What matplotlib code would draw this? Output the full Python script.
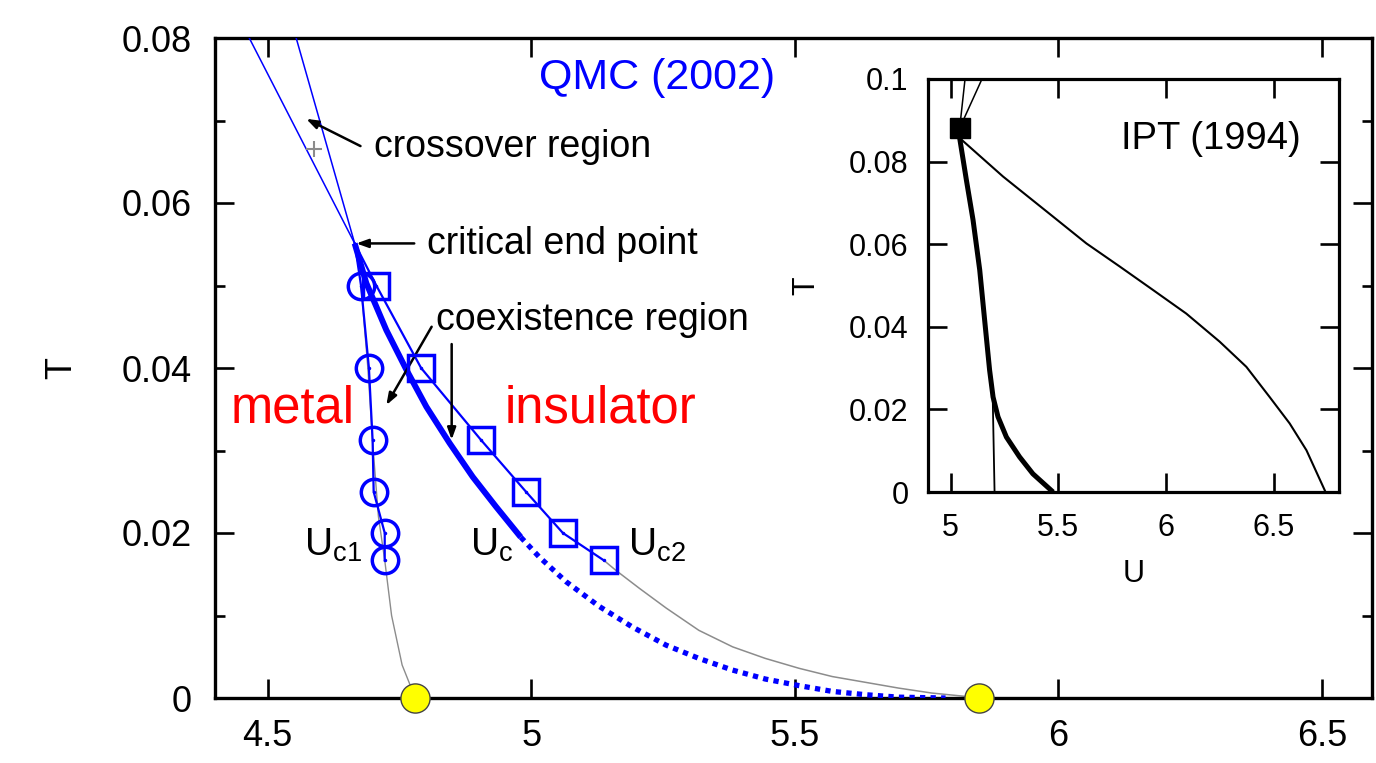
import matplotlib
matplotlib.use("Agg")
import matplotlib.pyplot as plt

plt.rcParams['font.family'] = ['Liberation Sans', 'DejaVu Sans']
plt.rcParams['mathtext.fontset'] = 'custom'
plt.rcParams['mathtext.rm'] = 'Liberation Sans'
plt.rcParams['mathtext.it'] = 'Liberation Sans'

# ---------------- data (QMC 2002) ----------------
crit_U, crit_T = 4.665, 0.0551
uc1_U = [4.677, 4.692, 4.699, 4.701, 4.722, 4.722]
uc1_T = [0.05, 0.04, 0.03125, 0.025, 0.02, 0.01667]
uc2_U = [4.706, 4.791, 4.905, 4.990, 5.060, 5.138]
uc2_T = [0.05, 0.04, 0.03125, 0.025, 0.02, 0.01667]
uc_U = [4.665, 4.687, 4.725, 4.763, 4.801, 4.845, 4.889, 4.933, 4.980]
uc_T = [0.0551, 0.0503, 0.0446, 0.0398, 0.0353, 0.0309, 0.0268, 0.0232, 0.0195]
uc_dot_U = [4.980, 5.015, 5.066, 5.129, 5.192, 5.256, 5.318, 5.381, 5.444, 5.508, 5.571, 5.634, 5.697, 5.786]
uc_dot_T = [0.0195, 0.0171, 0.0141, 0.0111, 0.0086, 0.0064, 0.0048, 0.0034, 0.0023, 0.0015, 0.0008, 0.0004, 0.0001, 0.0]
gray1_U = [4.677, 4.690, 4.699, 4.710, 4.722, 4.735, 4.755, 4.78]
gray1_T = [0.050, 0.040, 0.031, 0.022, 0.0167, 0.010, 0.004, 0.0]
gray2_U = [5.138, 5.160, 5.205, 5.256, 5.318, 5.382, 5.444, 5.508, 5.571, 5.634, 5.697, 5.760, 5.823, 5.849]
gray2_T = [0.01667, 0.0155, 0.0133, 0.0109, 0.0082, 0.0062, 0.0048, 0.0036, 0.0026, 0.0019, 0.0012, 0.0006, 0.0002, 0.0]
cross_a_U = [4.665, 4.465]
cross_a_T = [0.0551, 0.08]
cross_b_U = [4.665, 4.554]
cross_b_T = [0.0551, 0.08]
zeroT_U = [4.78, 5.849]
zeroT_T = [0.0, 0.0]
plus_U, plus_T = 4.588, 0.0665

# ---------------- data (IPT 1994, inset) ----------------
ipt_crit_U, ipt_crit_T = 5.042, 0.0881
ipt_uc2_U = [5.042, 5.243, 5.475, 5.630, 5.785, 5.940, 6.094, 6.249, 6.373, 6.481, 6.574, 6.652, 6.737]
ipt_uc2_T = [0.0857, 0.0764, 0.0667, 0.0602, 0.0546, 0.0489, 0.0432, 0.0364, 0.0303, 0.0230, 0.0166, 0.0101, 0.0004]
ipt_uc_U = [5.042, 5.073, 5.104, 5.135, 5.158, 5.181, 5.197, 5.220, 5.259, 5.320, 5.382, 5.467]
ipt_uc_T = [0.0857, 0.0756, 0.0659, 0.0538, 0.0416, 0.0295, 0.0230, 0.0182, 0.0133, 0.0085, 0.0044, 0.0004]
ipt_uc1_U = [5.042, 5.073, 5.104, 5.135, 5.158, 5.181, 5.195, 5.204]
ipt_uc1_T = [0.0857, 0.0756, 0.0659, 0.0538, 0.0416, 0.0295, 0.0240, 0.0]
ipt_up_a_U = [5.042, 5.068]
ipt_up_b_U = [5.042, 5.150]
ipt_up_T = [0.0881, 0.1005]

main_xticks = [4.5, 5, 5.5, 6, 6.5]
main_xlabels = ['4.5', '5', '5.5', '6', '6.5']
main_yticks = [0, 0.02, 0.04, 0.06, 0.08]
main_ylabels = ['0', '0.02', '0.04', '0.06', '0.08']
main_yminor = [0.01, 0.03, 0.05, 0.07]
ins_xticks = [5, 5.5, 6, 6.5]
ins_xlabels = ['5', '5.5', '6', '6.5']
ins_yticks = [0, 0.02, 0.04, 0.06, 0.08, 0.1]
ins_ylabels = ['0', '0.02', '0.04', '0.06', '0.08', '0.1']

BLUE = '#0000ff'
RED = '#ff0000'
GRAY = '#8c8c8c'

W, H = 1376, 763
fig = plt.figure(figsize=(13.76, 7.63), dpi=100)
ax = fig.add_axes([215/W, 1-698/H, (1372-215)/W, (698-38)/H])
ax.set_xlim(4.4, 6.595)
ax.set_ylim(0, 0.08)

# lines
ax.plot(gray1_U, gray1_T, color=GRAY, lw=1.0, zorder=2)
ax.plot(gray2_U, gray2_T, color=GRAY, lw=1.1, zorder=2)
ax.plot(cross_a_U, cross_a_T, color=BLUE, lw=1.1, zorder=3)
ax.plot(cross_b_U, cross_b_T, color=BLUE, lw=1.1, zorder=3)
ax.plot([crit_U] + uc1_U, [crit_T] + uc1_T, color=BLUE, lw=1.6, zorder=3)
ax.plot([crit_U] + uc2_U, [crit_T] + uc2_T, color=BLUE, lw=1.6, zorder=3)
ax.plot(uc_U, uc_T, color=BLUE, lw=4.3, zorder=3, solid_capstyle='butt', solid_joinstyle='round')
ax.plot(uc_dot_U, uc_dot_T, color=BLUE, lw=3.8, linestyle=(0, (1.0, 1.0)), zorder=3)

# markers
ax.plot(uc1_U, uc1_T, linestyle='none', marker='o', ms=19, mfc='none', mec=BLUE, mew=2.5, zorder=4)
ax.plot(uc2_U, uc2_T, linestyle='none', marker='s', ms=18.5, mfc='none', mec=BLUE, mew=2.5, zorder=4)
ax.plot(uc1_U + uc2_U, uc1_T + uc2_T, linestyle='none', marker='.', ms=3, color=BLUE, zorder=5)
ax.plot([plus_U], [plus_T], linestyle='none', marker='+', ms=12, mew=1.5, color=GRAY, zorder=4)
ax.plot(zeroT_U, zeroT_T, linestyle='none', marker='o', ms=21, mfc='#ffff00', mec='#444444', mew=1.0,
        zorder=6, clip_on=False)

# axes styling
for s in ax.spines.values():
    s.set_linewidth(2.4)
ax.set_xticks(main_xticks)
ax.set_xticklabels(main_xlabels)
ax.set_yticks(main_yticks)
ax.set_yticklabels(main_ylabels)
ax.set_yticks(main_yminor, minor=True)
ax.tick_params(which='both', direction='in', top=True, right=True, width=1.9, labelsize=26)
ax.tick_params(which='major', length=14)
ax.tick_params(which='minor', length=7)
ax.tick_params(axis='y', pad=17)
ax.tick_params(axis='x', pad=15)
ax.set_ylabel('T', fontsize=26, labelpad=30)
ax.set_xlabel('U', fontsize=26, labelpad=10)

# texts
FS = 27
ax.text(5.238, 0.0752, 'QMC (2002)', color=BLUE, fontsize=31, ha='center', va='center')
ax.text(4.702, 0.0668, 'crossover region', fontsize=FS, ha='left', va='center')
ax.text(4.803, 0.0550, 'critical end point', fontsize=FS, ha='left', va='center')
ax.text(4.820, 0.0458, 'coexistence region', fontsize=FS, ha='left', va='center')
ax.text(4.430, 0.0350, 'metal', color=RED, fontsize=36.5, ha='left', va='center')
ax.text(4.949, 0.0350, 'insulator', color=RED, fontsize=36.5, ha='left', va='center')
ax.text(4.569, 0.0185, r'$\mathrm{U_{c1}}$', fontsize=28, ha='left', va='center')
ax.text(4.883, 0.0185, r'$\mathrm{U_{c}}$', fontsize=28, ha='left', va='center')
ax.text(5.183, 0.0185, r'$\mathrm{U_{c2}}$', fontsize=28, ha='left', va='center')

arrow_kw = dict(arrowstyle='-|>,head_length=0.7,head_width=0.25', color='black', lw=1.8,
                shrinkA=0, shrinkB=0)
ax.annotate('', xy=(4.573, 0.0702), xytext=(4.676, 0.0669), arrowprops=arrow_kw)
ax.annotate('', xy=(4.668, 0.0551), xytext=(4.778, 0.0551), arrowprops=arrow_kw)
ax.annotate('', xy=(4.725, 0.0355), xytext=(4.811, 0.0450), arrowprops=arrow_kw)
ax.annotate('', xy=(4.849, 0.0313), xytext=(4.849, 0.0429), arrowprops=arrow_kw)

# ---------------- inset ----------------
ins = fig.add_axes([928/W, 1-492/H, (1339-928)/W, (492-79)/H])
ins.set_xlim(4.895, 6.803)
ins.set_ylim(0, 0.1)
ins.plot(ipt_up_a_U, ipt_up_T, color='black', lw=1.1)
ins.plot(ipt_up_b_U, ipt_up_T, color='black', lw=1.1)
ins.plot(ipt_uc2_U, ipt_uc2_T, color='black', lw=1.5)
ins.plot(ipt_uc1_U, ipt_uc1_T, color='black', lw=1.3)
ins.plot(ipt_uc_U, ipt_uc_T, color='black', lw=3.6, solid_joinstyle='round')
ins.plot([ipt_crit_U], [ipt_crit_T], linestyle='none', marker='s', ms=14, color='black', zorder=5)
for s in ins.spines.values():
    s.set_linewidth(2.3)
ins.set_xticks(ins_xticks)
ins.set_xticklabels(ins_xlabels)
ins.set_yticks(ins_yticks)
ins.set_yticklabels(ins_ylabels)
ins.tick_params(direction='in', top=True, right=True, width=1.9, length=14, labelsize=22)
ins.tick_params(axis='y', pad=14)
ins.tick_params(axis='x', pad=15)
ins.set_ylabel('T', fontsize=22, labelpad=20)
ins.set_xlabel('U', fontsize=22, labelpad=12)
ins.text(6.21, 0.0855, 'IPT (1994)', fontsize=27.5, ha='center', va='center')

fig.savefig('out.png', dpi=100)
